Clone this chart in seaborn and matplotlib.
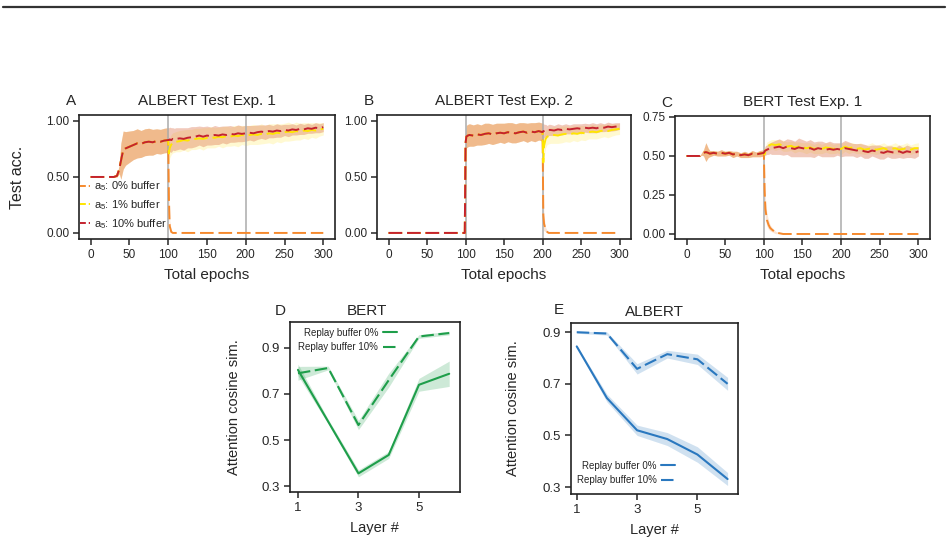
import numpy as np
import matplotlib
matplotlib.use("Agg")
import matplotlib.pyplot as plt
from matplotlib.lines import Line2D
import seaborn as sns

# ---------------------------------------------------------------- data
SWITCH_EPOCHS = [100, 200]
BUFFER_LABELS = ["a$_5$: 0% buffer", "a$_5$: 1% buffer", "a$_5$: 10% buffer"]

# Panel A, ALBERT Test Exp. 1 (all runs identical before epoch 100)
A_PRE_X = [0, 10, 20, 30, 34, 37, 39, 42, 45, 50, 55, 60, 65, 70, 75, 80, 85, 90, 95, 100]
A_PRE_MEAN = [0.50, 0.50, 0.50, 0.50, 0.51, 0.57, 0.64, 0.74, 0.755, 0.77, 0.785, 0.80,
              0.795, 0.81, 0.815, 0.81, 0.82, 0.815, 0.825, 0.83]
A_PRE_SD = [0.0, 0.0, 0.0, 0.0, 0.01, 0.04, 0.16, 0.17, 0.15, 0.14, 0.13, 0.13,
            0.12, 0.12, 0.12, 0.115, 0.11, 0.11, 0.11, 0.11]
A_POST_X = [100, 101, 102, 104, 106, 108] + list(range(110, 301, 5))
A_ORA_POST = [0.83, 0.30, 0.06, 0.01, 0.0, 0.0] + [0.0] * 39
A_ORA_POST_SD = [0.11, 0.18, 0.05, 0.01, 0.0, 0.0] + [0.0] * 39
A_YEL_POST = [0.83, 0.71, 0.76, 0.79, 0.805, 0.81,
              0.815, 0.82, 0.83, 0.825, 0.835, 0.84, 0.845, 0.84, 0.85, 0.855,
              0.85, 0.86, 0.855, 0.865, 0.86, 0.87, 0.865, 0.875, 0.87, 0.875,
              0.88, 0.875, 0.885, 0.88, 0.89, 0.885, 0.895, 0.89, 0.90, 0.905,
              0.90, 0.91, 0.905, 0.915, 0.91, 0.92, 0.915, 0.925, 0.93]
A_YEL_POST_SD = [0.11, 0.10, 0.09, 0.09, 0.09, 0.09,
                 0.09, 0.095, 0.09, 0.10, 0.09, 0.095, 0.09, 0.10, 0.09, 0.095,
                 0.09, 0.085, 0.095, 0.09, 0.085, 0.09, 0.095, 0.085, 0.09, 0.085,
                 0.09, 0.085, 0.09, 0.08, 0.085, 0.09, 0.08, 0.085, 0.08, 0.085,
                 0.075, 0.08, 0.075, 0.07, 0.075, 0.065, 0.07, 0.06, 0.055]
A_RED_POST = [0.83, 0.83, 0.835, 0.83, 0.84, 0.835,
              0.84, 0.845, 0.84, 0.85, 0.855, 0.86, 0.87, 0.86, 0.87, 0.865,
              0.875, 0.87, 0.88, 0.875, 0.885, 0.88, 0.89, 0.885, 0.89, 0.895,
              0.89, 0.90, 0.905, 0.90, 0.91, 0.905, 0.915, 0.91, 0.92, 0.915,
              0.925, 0.92, 0.93, 0.925, 0.935, 0.93, 0.94, 0.935, 0.945]
A_RED_POST_SD = [0.11, 0.11, 0.11, 0.11, 0.10, 0.10,
                 0.10, 0.095, 0.10, 0.09, 0.095, 0.09, 0.085, 0.09, 0.085, 0.08,
                 0.085, 0.08, 0.075, 0.08, 0.075, 0.07, 0.075, 0.07, 0.07, 0.065,
                 0.07, 0.065, 0.06, 0.065, 0.06, 0.055, 0.06, 0.055, 0.05, 0.055,
                 0.05, 0.045, 0.05, 0.045, 0.045, 0.04, 0.045, 0.04, 0.04]

# Panel B, ALBERT Test Exp. 2 (all runs identical before epoch 200)
B_PRE_X = [0, 50, 99, 100, 101, 103, 105] + list(range(110, 201, 5))
B_PRE_MEAN = [0.0, 0.0, 0.0, 0.80, 0.86, 0.87, 0.875,
              0.87, 0.88, 0.875, 0.885, 0.89, 0.88, 0.89, 0.895, 0.89, 0.90,
              0.895, 0.89, 0.90, 0.905, 0.895, 0.905, 0.90, 0.91, 0.90]
B_PRE_SD = [0.0, 0.0, 0.0, 0.06, 0.10, 0.10, 0.10,
            0.095, 0.095, 0.09, 0.095, 0.09, 0.09, 0.09, 0.085, 0.09, 0.085,
            0.09, 0.085, 0.085, 0.08, 0.085, 0.08, 0.085, 0.08, 0.08]
B_POST_X = [200, 201, 202, 204, 206, 208] + list(range(210, 301, 5))
B_ORA_POST = [0.90, 0.16, 0.08, 0.03, 0.01, 0.0] + [0.0] * 19
B_ORA_POST_SD = [0.08, 0.14, 0.06, 0.02, 0.01, 0.0] + [0.0] * 19
B_YEL_POST = [0.90, 0.63, 0.78, 0.84, 0.86, 0.865,
              0.87, 0.875, 0.87, 0.88, 0.885, 0.88, 0.89, 0.885, 0.895, 0.89,
              0.90, 0.905, 0.90, 0.91, 0.915, 0.91, 0.92, 0.925, 0.93]
B_YEL_POST_SD = [0.08, 0.15, 0.10, 0.08, 0.07, 0.07,
                 0.07, 0.075, 0.07, 0.075, 0.07, 0.07, 0.065, 0.07, 0.065, 0.065,
                 0.06, 0.065, 0.06, 0.06, 0.055, 0.06, 0.055, 0.05, 0.05]
B_RED_POST = [0.90, 0.91, 0.91, 0.915, 0.91, 0.92,
              0.92, 0.915, 0.925, 0.92, 0.93, 0.925, 0.93, 0.935, 0.93, 0.94,
              0.935, 0.94, 0.935, 0.945, 0.94, 0.95, 0.945, 0.95, 0.955]
B_RED_POST_SD = [0.08, 0.07, 0.06, 0.055, 0.05, 0.05,
                 0.05, 0.045, 0.05, 0.045, 0.045, 0.04, 0.045, 0.04, 0.045, 0.04,
                 0.04, 0.045, 0.04, 0.04, 0.035, 0.04, 0.035, 0.035, 0.03]

# Panel C, BERT Test Exp. 1 (all runs identical before epoch 100)
C_PRE_X = [0, 10, 17, 20, 22, 25, 28] + list(range(30, 101, 5))
C_PRE_MEAN = [0.50, 0.50, 0.50, 0.515, 0.52, 0.525, 0.52,
              0.515, 0.52, 0.515, 0.52, 0.515, 0.52, 0.51, 0.515, 0.505, 0.51,
              0.505, 0.515, 0.51, 0.515, 0.52]
C_PRE_SD = [0.0, 0.0, 0.0, 0.01, 0.02, 0.06, 0.03,
            0.02, 0.015, 0.015, 0.02, 0.015, 0.015, 0.02, 0.015, 0.015, 0.02,
            0.015, 0.02, 0.015, 0.02, 0.02]
C_POST_X = [100, 101, 102, 104, 106, 108] + list(range(110, 301, 5))
C_ORA_POST = [0.52, 0.28, 0.16, 0.09, 0.06, 0.04, 0.03, 0.01, 0.005, 0.0] + [0.0] * 35
C_ORA_POST_SD = [0.02, 0.10, 0.07, 0.04, 0.03, 0.02, 0.015, 0.008, 0.004, 0.0] + [0.0] * 35
C_YEL_POST = [0.52, 0.51, 0.54, 0.56, 0.565, 0.57,
              0.575, 0.57, 0.575, 0.565, 0.56, 0.565, 0.555, 0.56, 0.555, 0.55,
              0.555, 0.545, 0.55, 0.545, 0.555, 0.55, 0.545, 0.55, 0.545, 0.56,
              0.55, 0.555, 0.545, 0.55, 0.54, 0.545, 0.55, 0.54, 0.545, 0.55,
              0.54, 0.545, 0.55, 0.54, 0.545, 0.55, 0.54, 0.55, 0.55]
C_YEL_POST_SD = [0.02, 0.02, 0.025, 0.03, 0.03, 0.03,
                 0.03, 0.035, 0.03, 0.035, 0.03, 0.03, 0.035, 0.03, 0.03, 0.035,
                 0.03, 0.03, 0.035, 0.03, 0.03, 0.035, 0.03, 0.03, 0.035, 0.03,
                 0.035, 0.03, 0.03, 0.035, 0.03, 0.03, 0.035, 0.03, 0.03, 0.035,
                 0.03, 0.03, 0.035, 0.03, 0.03, 0.035, 0.03, 0.03, 0.035]
C_RED_POST = [0.52, 0.53, 0.535, 0.54, 0.545, 0.55,
              0.55, 0.555, 0.56, 0.55, 0.56, 0.55, 0.545, 0.555, 0.55, 0.545,
              0.55, 0.54, 0.55, 0.545, 0.54, 0.545, 0.54, 0.545, 0.54, 0.55,
              0.545, 0.54, 0.535, 0.54, 0.53, 0.525, 0.535, 0.53, 0.525, 0.52,
              0.53, 0.525, 0.52, 0.53, 0.52, 0.53, 0.525, 0.52, 0.53]
C_RED_POST_SD = [0.02, 0.025, 0.03, 0.03, 0.035, 0.035,
                 0.04, 0.045, 0.05, 0.045, 0.05, 0.055, 0.05, 0.06, 0.055, 0.05,
                 0.055, 0.05, 0.045, 0.05, 0.045, 0.05, 0.045, 0.04, 0.045, 0.05,
                 0.045, 0.04, 0.045, 0.04, 0.045, 0.04, 0.035, 0.04, 0.045, 0.04,
                 0.035, 0.04, 0.035, 0.04, 0.035, 0.04, 0.035, 0.035, 0.03]

# Panels D/E, attention similarity per layer
LAYERS = [1, 2, 3, 4, 5, 6]
D_BUF0 = [0.805, 0.58, 0.355, 0.435, 0.74, 0.788]
D_BUF0_SD = [0.025, 0.01, 0.015, 0.015, 0.028, 0.055]
D_BUF10 = [0.79, 0.813, 0.565, 0.76, 0.95, 0.965]
D_BUF10_SD = [0.03, 0.008, 0.02, 0.03, 0.008, 0.008]
E_BUF0 = [0.845, 0.645, 0.52, 0.486, 0.426, 0.331]
E_BUF0_SD = [0.005, 0.015, 0.02, 0.025, 0.03, 0.025]
E_BUF10 = [0.90, 0.895, 0.758, 0.815, 0.795, 0.70]
E_BUF10_SD = [0.004, 0.006, 0.02, 0.015, 0.02, 0.025]
REPLAY_LABELS = ["Replay buffer 0%", "Replay buffer 10%"]

for a, b in [(A_POST_X, A_RED_POST), (A_POST_X, A_YEL_POST), (A_POST_X, A_ORA_POST),
             (A_POST_X, A_RED_POST_SD), (A_POST_X, A_YEL_POST_SD), (A_PRE_X, A_PRE_MEAN),
             (A_PRE_X, A_PRE_SD), (B_PRE_X, B_PRE_MEAN), (B_PRE_X, B_PRE_SD),
             (B_POST_X, B_RED_POST), (B_POST_X, B_YEL_POST), (B_POST_X, B_ORA_POST),
             (B_POST_X, B_RED_POST_SD), (B_POST_X, B_YEL_POST_SD), (C_PRE_X, C_PRE_MEAN),
             (C_PRE_X, C_PRE_SD), (C_POST_X, C_RED_POST), (C_POST_X, C_YEL_POST),
             (C_POST_X, C_ORA_POST), (C_POST_X, C_RED_POST_SD), (C_POST_X, C_YEL_POST_SD),
             (C_POST_X, C_ORA_POST_SD)]:
    assert len(a) == len(b), (len(a), len(b))

# ---------------------------------------------------------------- style
LINE_COLORS = ["#F5892D", "#FFE500", "#C4222F"]
BAND_COLORS = ["#F28A3C", "#FFE94D", "#DE7A55"]
BAND_ALPHAS = [0.22, 0.25, 0.40]
GREEN = "#1E9E4A"
BLUE = "#2A78BF"

sns.set_style("ticks")
plt.rcParams["font.family"] = ["Liberation Sans", "DejaVu Sans"]
plt.rcParams["mathtext.fontset"] = "custom"
plt.rcParams["mathtext.rm"] = "Liberation Sans"
plt.rcParams["mathtext.default"] = "regular"
plt.rcParams["axes.linewidth"] = 1.2
plt.rcParams["axes.edgecolor"] = "#222222"


def join(pre, post):
    return np.array(list(pre) + list(post[1:]), dtype=float)


def training_panel(ax, pre_x, pre_mean, pre_sd, post_x, series, yticks, ylim, title, letter):
    x = join(pre_x, post_x)
    curves = [(join(pre_mean, m), join(pre_sd, s)) for m, s in series]
    for (m, s), c, a in zip(curves, BAND_COLORS, BAND_ALPHAS):
        ax.fill_between(x, m - s, m + s, color=c, alpha=a, lw=0, zorder=1)
    for e in SWITCH_EPOCHS:
        ax.axvline(e, color="#ababab", lw=1.1, zorder=1.5)
    for (m, s), c, lab in zip(curves, LINE_COLORS, BUFFER_LABELS):
        sns.lineplot(x=x, y=m, ax=ax, color=c, lw=1.4, linestyle=(0, (7, 2.5)),
                     label=lab, zorder=2)
    ax.set_xlim(-15, 315)
    ax.set_ylim(*ylim)
    ax.set_xticks(range(0, 301, 50))
    ax.set_yticks(yticks)
    ax.set_yticklabels([f"{t:.2f}" for t in yticks])
    ax.tick_params(labelsize=8.5, length=4, width=1.1, pad=3)
    ax.set_xlabel("Total epochs", fontsize=11, labelpad=5)
    ax.set_ylabel("")
    ax.set_title(title, fontsize=11, pad=7)
    ax.text(-0.032, 1.11, letter, transform=ax.transAxes, fontsize=11,
            ha="center", va="center")


def layer_panel(ax, buf0, sd0, buf10, sd10, color, title, title_x, letter, letter_xy):
    x = np.array(LAYERS, dtype=float)
    for m, s in [(buf0, sd0), (buf10, sd10)]:
        m = np.array(m)
        s = np.array(s)
        ax.fill_between(x, m - s, m + s, color=color, alpha=0.22, lw=0)
    sns.lineplot(x=x, y=buf0, ax=ax, color=color, lw=1.5, label=REPLAY_LABELS[0])
    sns.lineplot(x=x, y=buf10, ax=ax, color=color, lw=1.5, linestyle=(0, (6, 2.2)),
                 label=REPLAY_LABELS[1])
    ax.set_xticks([1, 3, 5])
    ax.set_yticks([0.3, 0.5, 0.7, 0.9])
    ax.tick_params(labelsize=9.5, length=4, width=1.1, pad=3)
    ax.set_xlabel("Layer #", fontsize=10.5, labelpad=5)
    ax.set_ylabel("Attention cosine sim.", fontsize=10.5)
    ax.text(title_x, 1.025, title, transform=ax.transAxes, fontsize=11,
            ha="center", va="bottom")
    ax.text(letter_xy[0], letter_xy[1], letter, transform=ax.transAxes, fontsize=11,
            ha="center", va="center")


fig = plt.figure(figsize=(9.48, 5.44), dpi=100)
fig.add_artist(Line2D([0.003, 0.997], [1 - 7 / 544] * 2, transform=fig.transFigure,
                      color="#333333", lw=1.6))

ax_a = fig.add_axes([0.0833, 0.5607, 0.270, 0.228])
ax_b = fig.add_axes([0.3977, 0.5607, 0.268, 0.228])
ax_c = fig.add_axes([0.712, 0.5607, 0.269, 0.226])
ax_d = fig.add_axes([0.306, 0.0956, 0.179, 0.3125])
ax_e = fig.add_axes([0.602, 0.0919, 0.176, 0.314])

training_panel(ax_a, A_PRE_X, A_PRE_MEAN, A_PRE_SD, A_POST_X,
               [(A_ORA_POST, A_ORA_POST_SD), (A_YEL_POST, A_YEL_POST_SD),
                (A_RED_POST, A_RED_POST_SD)],
               [0.0, 0.5, 1.0], (-0.054, 1.054), "ALBERT Test Exp. 1", "A")
training_panel(ax_b, B_PRE_X, B_PRE_MEAN, B_PRE_SD, B_POST_X,
               [(B_ORA_POST, B_ORA_POST_SD), (B_YEL_POST, B_YEL_POST_SD),
                (B_RED_POST, B_RED_POST_SD)],
               [0.0, 0.5, 1.0], (-0.054, 1.054), "ALBERT Test Exp. 2", "B")
training_panel(ax_c, C_PRE_X, C_PRE_MEAN, C_PRE_SD, C_POST_X,
               [(C_ORA_POST, C_ORA_POST_SD), (C_YEL_POST, C_YEL_POST_SD),
                (C_RED_POST, C_RED_POST_SD)],
               [0.0, 0.25, 0.5, 0.75], (-0.032, 0.756), "BERT Test Exp. 1", "C")

ax_a.set_ylabel("Test acc.", fontsize=11.5)
ax_a.yaxis.set_label_coords(-0.21, 0.5)
leg = ax_a.legend(loc="lower left", bbox_to_anchor=(-0.012, 0.03), frameon=False,
                  fontsize=8, handlelength=0.9, handletextpad=0.35, labelspacing=0.45,
                  borderaxespad=0)
for h in leg.get_lines():
    h.set_dashes((3, 1.5))
ax_b.get_legend().remove()
ax_c.get_legend().remove()

layer_panel(ax_d, D_BUF0, D_BUF0_SD, D_BUF10, D_BUF10_SD, GREEN, "BERT", 0.45, "D",
            (-0.059, 1.065))
ax_d.set_xlim(0.74, 6.35)
ax_d.set_ylim(0.274, 1.013)
ax_d.yaxis.set_label_coords(-0.29, 0.5)
ax_d.legend(loc="upper left", bbox_to_anchor=(0.025, 0.99), frameon=False, fontsize=7,
            markerfirst=False, handlelength=1.4, handletextpad=0.5, labelspacing=0.45,
            borderaxespad=0)

layer_panel(ax_e, E_BUF0, E_BUF0_SD, E_BUF10, E_BUF10_SD, BLUE, "ALBERT", 0.5, "E",
            (-0.072, 1.076))
ax_e.set_xlim(0.80, 6.33)
ax_e.set_ylim(0.273, 0.935)
ax_e.yaxis.set_label_coords(-0.305, 0.5)
ax_e.legend(loc="lower left", bbox_to_anchor=(0.012, 0.03), frameon=False, fontsize=7,
            markerfirst=False, handlelength=1.4, handletextpad=0.5, labelspacing=0.45,
            borderaxespad=0)

fig.savefig("out.png", dpi=100)
